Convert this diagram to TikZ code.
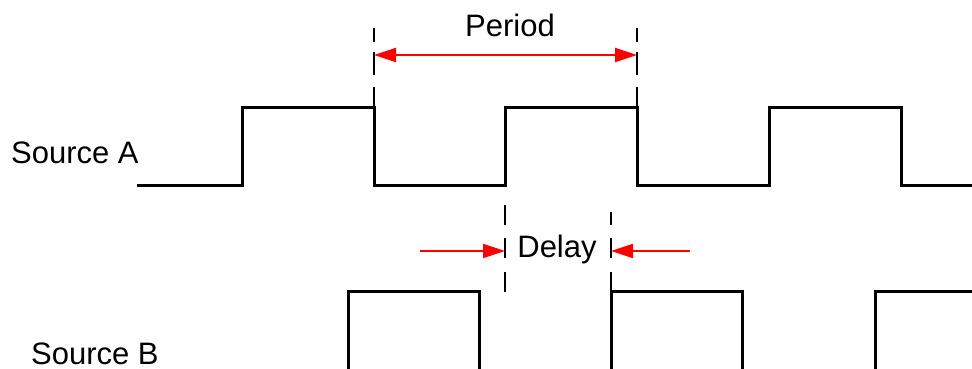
\documentclass[tikz,border=0pt]{standalone}
\usepackage{fontspec}
\setmainfont{Liberation Sans}
\usetikzlibrary{arrows.meta}
\begin{document}
\begin{tikzpicture}[x=1pt,y=-1pt,
  wave/.style={line width=3pt,line join=miter},
  marker/.style={line width=2.4pt},
  dimarrow/.style={red,line width=2pt,-{Triangle[length=22pt,width=14pt]}},
  dimboth/.style={red,line width=2pt,{Triangle[length=22pt,width=14pt]}-{Triangle[length=22pt,width=14pt]}},
  lbl/.style={inner sep=0pt,font=\fontsize{31}{36}\selectfont}]
\useasboundingbox (0,0) rectangle (972,369);
% Source A waveform
\draw[wave] (137,185) -- (242,185) -- (242,107) -- (374,107) -- (374,185) -- (505,185) -- (505,107) -- (637,107) -- (637,185) -- (769,185) -- (769,107) -- (901,107) -- (901,185) -- (972,185);
% Source B waveform
\draw[wave] (348,372) -- (348,291) -- (479,291) -- (479,372);
\draw[wave] (611,372) -- (611,291) -- (742,291) -- (742,372);
\draw[wave] (875,372) -- (875,291) -- (975,291);
% Period markers
\foreach \xx in {374,637} {
  \draw[marker] (\xx,28) -- (\xx,42);
  \draw[marker] (\xx,52) -- (\xx,75);
  \draw[marker] (\xx,87) -- (\xx,107);
}
% Delay markers
\draw[marker] (505,205) -- (505,225);
\draw[marker] (505,238) -- (505,258);
\draw[marker] (505,272) -- (505,292);
\draw[marker] (611,212) -- (611,225);
\draw[marker] (611,238) -- (611,258);
\draw[marker] (611,272) -- (611,291);
% coordinates
\coordinate (pl) at (374,55);
\coordinate (pr) at (637,55);
\coordinate (dl0) at (420,251);
\coordinate (dl) at (505,251);
\coordinate (dr0) at (690,251);
\coordinate (dr) at (611,251);
\draw[dimboth] (pl) -- (pr);
\draw[dimarrow] (dl0) -- (dl);
\draw[dimarrow] (dr0) -- (dr);
% labels
\node[lbl,anchor=base] (period) at (510,37) {Period};
\node[lbl,anchor=base] (delay) at (557,257) {Delay};
\node[lbl,anchor=base west] (srcA) at (11,163) {Source A};
\node[lbl,anchor=base west] (srcB) at (31,364) {Source B};
\end{tikzpicture}
\end{document}
